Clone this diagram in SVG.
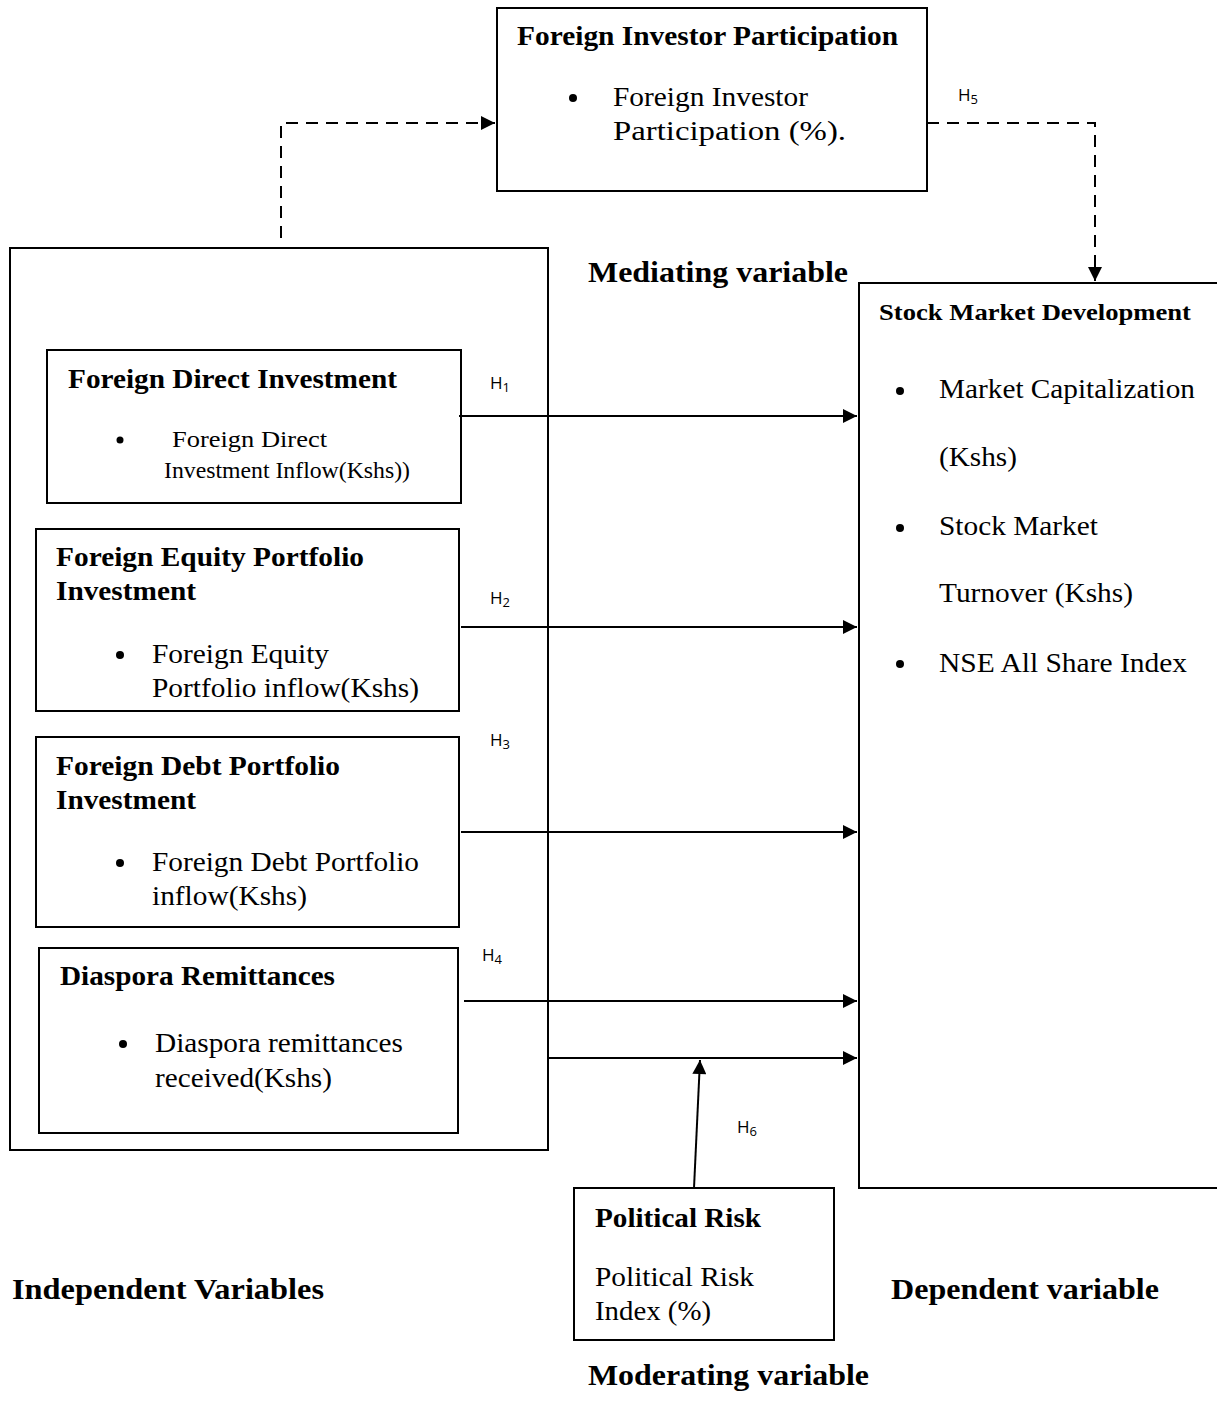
<svg xmlns="http://www.w3.org/2000/svg" width="1217" height="1401" viewBox="0 0 1217 1401">
<style>
.box{fill:none;stroke:#000;stroke-width:2}
.b{font-family:"Liberation Serif",serif;font-weight:bold;fill:#000}
.r{font-family:"Liberation Serif",serif;fill:#000}
.h{font-family:"Open Sans","Liberation Sans",sans-serif;font-size:17px;fill:#000}
.ln{fill:none;stroke:#000;stroke-width:2}
.dash{fill:none;stroke:#000;stroke-width:2;stroke-dasharray:12 8}
</style>
<defs>
<marker id="ah" viewBox="0 0 10 10" refX="10" refY="5" markerWidth="9" markerHeight="7" markerUnits="strokeWidth" orient="auto">
<path d="M0,0 L10,5 L0,10 z" fill="#000"/>
</marker>
</defs>
<rect width="1217" height="1401" fill="#fff"/>

<g id="mediator">
<rect class="box" x="497" y="8" width="430" height="183"/>
<text class="b" x="517" y="45" font-size="27" textLength="381" lengthAdjust="spacingAndGlyphs">Foreign Investor Participation</text>
<circle cx="573" cy="98" r="4"/>
<text class="r" x="613" y="106" font-size="27" textLength="195" lengthAdjust="spacingAndGlyphs">Foreign Investor</text>
<text class="r" x="613" y="140" font-size="27" textLength="233" lengthAdjust="spacingAndGlyphs">Participation (%).</text>
</g>

<g id="independent">
<rect class="box" x="10" y="248" width="538" height="902"/>
</g>

<g id="fdi">
<rect class="box" x="47" y="350" width="414" height="153"/>
<text class="b" x="68" y="388" font-size="27" textLength="329" lengthAdjust="spacingAndGlyphs">Foreign Direct Investment</text>
<circle cx="120" cy="440" r="3.5"/>
<text class="r" x="172" y="447" font-size="23" textLength="155" lengthAdjust="spacingAndGlyphs">Foreign Direct</text>
<text class="r" x="164" y="478" font-size="23" textLength="246" lengthAdjust="spacingAndGlyphs">Investment Inflow(Kshs))</text>
</g>

<g id="fepi">
<rect class="box" x="36" y="529" width="423" height="182"/>
<text class="b" x="56" y="566" font-size="27" textLength="308" lengthAdjust="spacingAndGlyphs">Foreign Equity Portfolio</text>
<text class="b" x="56" y="600" font-size="27" textLength="140" lengthAdjust="spacingAndGlyphs">Investment</text>
<circle cx="120" cy="655" r="4"/>
<text class="r" x="152" y="663" font-size="27" textLength="177" lengthAdjust="spacingAndGlyphs">Foreign Equity</text>
<text class="r" x="152" y="697" font-size="27" textLength="267" lengthAdjust="spacingAndGlyphs">Portfolio inflow(Kshs)</text>
</g>

<g id="fdpi">
<rect class="box" x="36" y="737" width="423" height="190"/>
<text class="b" x="56" y="775" font-size="27" textLength="284" lengthAdjust="spacingAndGlyphs">Foreign Debt Portfolio</text>
<text class="b" x="56" y="809" font-size="27" textLength="140" lengthAdjust="spacingAndGlyphs">Investment</text>
<circle cx="120" cy="863" r="4"/>
<text class="r" x="152" y="871" font-size="27" textLength="267" lengthAdjust="spacingAndGlyphs">Foreign Debt Portfolio</text>
<text class="r" x="152" y="905" font-size="27" textLength="155" lengthAdjust="spacingAndGlyphs">inflow(Kshs)</text>
</g>

<g id="diaspora">
<rect class="box" x="39" y="948" width="419" height="185"/>
<text class="b" x="60" y="985" font-size="27" textLength="275" lengthAdjust="spacingAndGlyphs">Diaspora Remittances</text>
<circle cx="123" cy="1044" r="4"/>
<text class="r" x="155" y="1052" font-size="27" textLength="248" lengthAdjust="spacingAndGlyphs">Diaspora remittances</text>
<text class="r" x="155" y="1087" font-size="27" textLength="177" lengthAdjust="spacingAndGlyphs">received(Kshs)</text>
</g>

<g id="dependent">
<path class="box" d="M1220,283 H859 V1188 H1220"/>
<text class="b" x="879" y="320" font-size="23" textLength="312" lengthAdjust="spacingAndGlyphs">Stock Market Development</text>
<circle cx="900" cy="391" r="4"/>
<text class="r" x="939" y="398" font-size="27" textLength="256" lengthAdjust="spacingAndGlyphs">Market Capitalization</text>
<text class="r" x="939" y="466" font-size="27" textLength="78" lengthAdjust="spacingAndGlyphs">(Kshs)</text>
<circle cx="900" cy="528" r="4"/>
<text class="r" x="939" y="535" font-size="27" textLength="159" lengthAdjust="spacingAndGlyphs">Stock Market</text>
<text class="r" x="939" y="602" font-size="27" textLength="194" lengthAdjust="spacingAndGlyphs">Turnover (Kshs)</text>
<circle cx="900" cy="664" r="4"/>
<text class="r" x="939" y="672" font-size="27" textLength="248" lengthAdjust="spacingAndGlyphs">NSE All Share Index</text>
</g>

<g id="moderator">
<rect class="box" x="574" y="1188" width="260" height="152"/>
<text class="b" x="595" y="1227" font-size="27" textLength="166" lengthAdjust="spacingAndGlyphs">Political Risk</text>
<text class="r" x="595" y="1286" font-size="27" textLength="159" lengthAdjust="spacingAndGlyphs">Political Risk</text>
<text class="r" x="595" y="1320" font-size="27" textLength="116" lengthAdjust="spacingAndGlyphs">Index (%)</text>
</g>

<g id="labels">
<text class="b" x="588" y="282" font-size="29" textLength="260" lengthAdjust="spacingAndGlyphs">Mediating variable</text>
<text class="b" x="12" y="1299" font-size="29" textLength="312" lengthAdjust="spacingAndGlyphs">Independent Variables</text>
<text class="b" x="891" y="1299" font-size="29" textLength="268" lengthAdjust="spacingAndGlyphs">Dependent variable</text>
<text class="b" x="588" y="1385" font-size="29" textLength="281" lengthAdjust="spacingAndGlyphs">Moderating variable</text>
<text class="h" x="490" y="389">H<tspan font-size="13" dy="3">1</tspan></text>
<text class="h" x="490" y="604">H<tspan font-size="13" dy="3">2</tspan></text>
<text class="h" x="490" y="746">H<tspan font-size="13" dy="3">3</tspan></text>
<text class="h" x="482" y="961">H<tspan font-size="13" dy="3">4</tspan></text>
<text class="h" x="958" y="101">H<tspan font-size="13" dy="3">5</tspan></text>
<text class="h" x="737" y="1133">H<tspan font-size="13" dy="3">6</tspan></text>
</g>

<g id="connectors">
<path class="dash" d="M281,238 V123 H495" marker-end="url(#ah)"/>
<path class="dash" d="M927,123 H1095 V281" marker-end="url(#ah)"/>
<path class="ln" d="M459,416 H857" marker-end="url(#ah)"/>
<path class="ln" d="M461,627 H857" marker-end="url(#ah)"/>
<path class="ln" d="M461,832 H857" marker-end="url(#ah)"/>
<path class="ln" d="M464,1001 H857" marker-end="url(#ah)"/>
<path class="ln" d="M548,1058 H857" marker-end="url(#ah)"/>
<path class="ln" d="M694,1188 L700,1060" marker-end="url(#ah)"/>
</g>
</svg>
